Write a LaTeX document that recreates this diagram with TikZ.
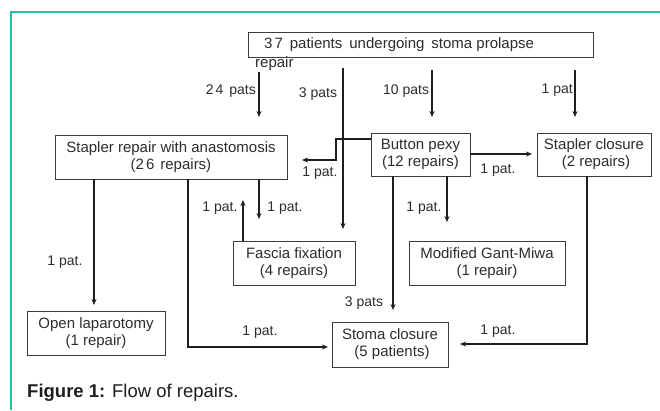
\documentclass[tikz,border=0pt]{standalone}
\usepackage{fontspec}
\setmainfont{Liberation Sans}
\usetikzlibrary{arrows.meta}
\definecolor{frameteal}{RGB}{38,192,160}
\definecolor{ink}{RGB}{30,30,30}
\definecolor{boxline}{RGB}{60,60,60}
\definecolor{txt}{RGB}{45,45,45}
\begin{document}
\begin{tikzpicture}[x=1pt,y=-1pt,
  box/.style={draw=boxline,line width=0.9pt,fill=white,align=center,inner sep=0pt,
    font=\fontsize{15}{17}\selectfont,text=txt},
  lbl/.style={font=\fontsize{14}{16}\selectfont,text=txt,inner sep=0pt},
  arr/.style={draw=ink,line width=1.6pt,-{Stealth[length=6pt,width=5pt]}},
  ln/.style={draw=ink,line width=1.6pt}]
\useasboundingbox (0,0) rectangle (660,410);
\fill[white] (0,0) rectangle (660,410);
\draw[frameteal,line width=1.6pt] (11,410) -- (11,12) -- (660,12);

% boxes
\node[box,minimum width=345pt,minimum height=25pt] (top) at (420.5,44.5) {};
\node[lbl,anchor=west,font=\fontsize{15}{17}\selectfont] (toptext) at (264,45)
  {3\hspace{2pt}7\hspace{7pt}patients\hspace{7pt}undergoing\hspace{7pt}stoma prolapse};
\node[lbl,anchor=west,font=\fontsize{15}{17}\selectfont] (toprepair) at (255,64) {repair};
\node[box,minimum width=232pt,minimum height=44pt] (sr) at (171,157)
  {Stapler repair with anastomosis\\(2\hspace{2pt}6\hspace{6pt}repairs)};
\node[box,minimum width=99pt,minimum height=43pt] (bp) at (420.5,154.5)
  {Button pexy\\(12 repairs)};
\node[box,minimum width=114pt,minimum height=43pt] (sc) at (594,154.5)
  {Stapler closure\\\hspace{4pt}(2 repairs)};
\node[box,minimum width=122pt,minimum height=44pt] (ff) at (294,263)
  {Fascia fixation\\(4 repairs)};
\node[box,minimum width=156pt,minimum height=44pt] (mg) at (487,263)
  {Modified Gant-Miwa\\(1 repair)};
\node[box,minimum width=138pt,minimum height=44pt] (ol) at (96,333)
  {Open laparotomy\\(1 repair)};
\node[box,minimum width=116pt,minimum height=45pt] (st) at (390,344.5)
  {Stoma closure\\\hspace{4pt}(5 patients)};

% free arrow ends
\coordinate (a24s) at (259,72);  \coordinate (a24e) at (259,117);
\coordinate (a3s) at (343,68);   \coordinate (a3e) at (343,229);
\coordinate (a10s) at (432,70);  \coordinate (a10e) at (432,117);
\coordinate (a1s) at (575,70);   \coordinate (a1e) at (575,117);
\coordinate (bsrk1) at (336,139); \coordinate (bsrk2) at (336,160); \coordinate (bsre) at (302,160);
\coordinate (bsce) at (532,154);
\coordinate (sffe) at (259,219);
\coordinate (fsre) at (243,200);
\coordinate (bmge) at (447,222);
\coordinate (bste) at (393,310);
\coordinate (scstk) at (587,344); \coordinate (scste) at (460,344);
\coordinate (srole) at (94,305);
\coordinate (srstk) at (188,347); \coordinate (srste) at (328,347);

\draw[arr] (a24s) -- (a24e);
\draw[arr] (a3s) -- (a3e);
\draw[arr] (a10s) -- (a10e);
\draw[arr] (a1s) -- (a1e);
\draw[arr] (bp.west |- bsrk1) -- (bsrk1) -- (bsrk2) -- (bsre);
\draw[arr] (bp.east |- bsce) -- (bsce);
\draw[arr] (sr.south -| sffe) -- (sffe);
\draw[arr] (ff.north -| fsre) -- (fsre);
\draw[arr] (bp.south -| bmge) -- (bmge);
\draw[arr] (bp.south -| bste) -- (bste);
\draw[arr] (sc.south -| scstk) -- (scstk) -- (scste);
\draw[arr] (sr.south -| srole) -- (srole);
\draw[arr] (sr.south -| srstk) -- (srstk) -- (srste);

% labels
\node[lbl,anchor=east] (l24) at (256,91) {2\hspace{2pt}4\hspace{6pt}pats};
\node[lbl] (l3) at (318,94) {3 pats};
\node[lbl,anchor=west] (l10) at (383,91) {10 pats};
\node[lbl,anchor=east] (l1) at (573,90) {1 pat};
\node[lbl] (lbsr) at (320,173) {1 pat.};
\node[lbl] (lbsc) at (498,170) {1 pat.};
\node[lbl] (lsff) at (285,208) {1 pat.};
\node[lbl] (lfsr) at (220,208) {1 pat.};
\node[lbl] (lbmg) at (424,208) {1 pat.};
\node[lbl] (lbst) at (364,303) {3 pats};
\node[lbl] (lscst) at (498,331) {1 pat.};
\node[lbl] (lsrol) at (65,262) {1 pat.};
\node[lbl] (lsrst) at (260,332) {1 pat.};

% caption
\node[anchor=west,inner sep=0pt,font=\fontsize{18.5}{21}\selectfont,text=ink] (cap) at (27,393)
  {\textbf{Figure 1:} Flow of repairs.};
\end{tikzpicture}
\end{document}
